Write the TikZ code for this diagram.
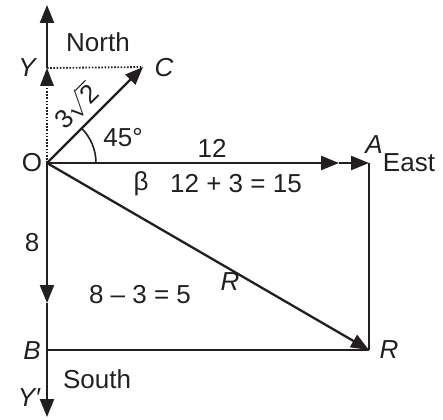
\documentclass[tikz,border=0pt]{standalone}
\usepackage{fontspec}
\setmainfont{Liberation Sans}
\usetikzlibrary{arrows.meta}
\definecolor{ink}{HTML}{231F20}
\begin{document}
\begin{tikzpicture}[x=1pt,y=-1pt,
  line/.style={draw=ink,line width=2.3pt},
  arr/.style={line,-{Triangle[length=18pt,width=14pt]}},
  dots/.style={draw=ink,line width=1.8pt,dash pattern=on 1.6pt off 1.6pt},
  lbl/.style={text=ink,font=\fontsize{26}{30}\selectfont,inner sep=0pt},
  ilbl/.style={lbl,font=\fontsize{26}{30}\selectfont\itshape}]
\useasboundingbox (0,0) rectangle (443,419);
\coordinate (O) at (47,163);
\coordinate (Y) at (47,68);
\coordinate (Ys) at (47,82);
\coordinate (Top) at (47,5);
\coordinate (C) at (143,67);
\coordinate (A1) at (339,163);
\coordinate (A) at (369,163);
\coordinate (Bm) at (47,303);
\coordinate (B) at (47,350);
\coordinate (Bot) at (47,417);
\coordinate (R) at (369,350);
\coordinate (Arc0) at (96,163);
% axes
\draw[arr] (Y) -- (Top);
\draw[dots] (O) -- (Ys);
\path[fill=ink] (47,68) -- (40,86) -- (54,86) -- cycle;
\draw[dots] (Y) -- (C);
\draw[arr] (O) -- (C);
\draw[arr] (O) -- (A1);
\draw[arr] (A1) -- (A);
\draw[line] (A) -- (R);
\draw[arr] (O) -- (Bm);
\draw[line] (Bm) -- (B);
\draw[arr] (B) -- (Bot);
\draw[line] (B) -- (R);
\draw[arr] (O) -- (R);
\draw[draw=ink,line width=1.6pt] (Arc0) arc[start angle=0,end angle=-45,radius=49];
% labels
\node[lbl] (north) at (98,42) {North};
\node[ilbl] (ylab) at (27,68) {Y};
\node[ilbl] (clab) at (164,68) {C};
\node[lbl,rotate=45] (r2) at (76,106) {3$\sqrt{\hbox{2}}$};
\node[lbl] (ang) at (123,138) {45°};
\node[lbl] (olab) at (32,163) {O};
\node[lbl] (twelve) at (212,148) {12};
\node[lbl] (fifteen) at (236,184) {12 + 3 = 15};
\node[ilbl] (alab) at (374,145) {A};
\node[lbl] (east) at (409,163) {East};
\node[lbl] (beta) at (141,184) {β};
\node[ilbl] (rmid) at (230,282) {R};
\node[lbl] (eight) at (32,243) {8};
\node[lbl] (five) at (140,295) {8 – 3 = 5};
\node[ilbl] (blab) at (32,351) {B};
\node[ilbl] (rlab) at (389,350) {R};
\node[lbl] (south) at (97,379) {South};
\node[ilbl] (yp) at (29,398) {Y′};
\end{tikzpicture}
\end{document}
